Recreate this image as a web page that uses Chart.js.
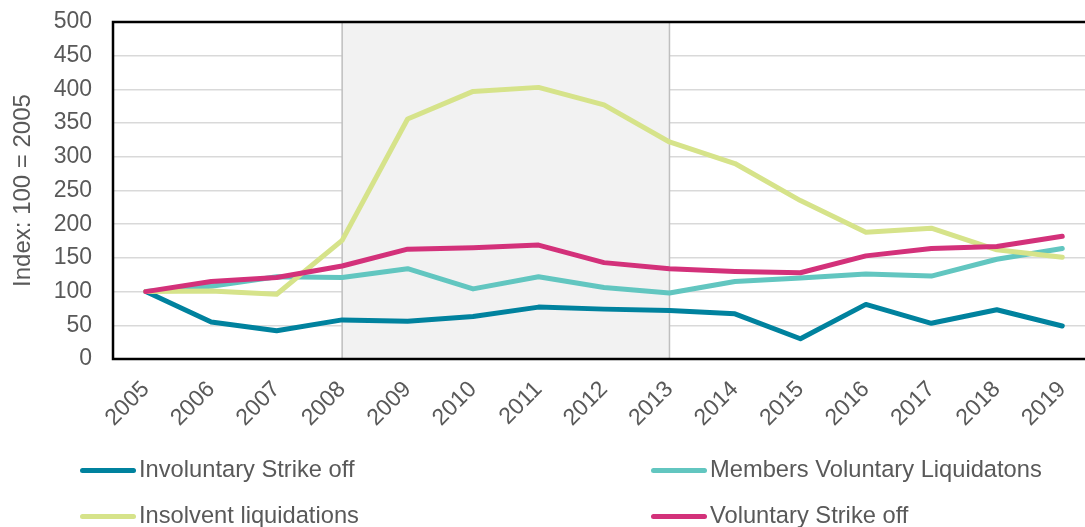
<!DOCTYPE html>
<html>
<head>
<meta charset="utf-8">
<script src="https://cdn.jsdelivr.net/npm/chart.js@4.4.0/dist/chart.umd.min.js"></script>
<style>
  html, body { margin: 0; padding: 0; background: #ffffff; overflow: hidden; }
  #wrap { position: relative; width: 1085px; height: 527px; overflow: hidden; }
  #c { position: absolute; left: 0; top: 0; }
  .leg { position: absolute; font-family: "Liberation Sans", Arial, sans-serif; font-size: 23.7px; color: #595959; white-space: nowrap; line-height: 1; }
  .leg .sw { position: absolute; left: 0; top: 50%; width: 56px; height: 5px; margin-top: -2.5px; border-radius: 3px; }
  .leg .tx { position: absolute; left: 59px; top: 50%; transform: translateY(-50%); }
</style>
</head>
<body>
<div id="wrap">
  <canvas id="c" width="1100" height="527" style="width:1100px;height:527px;"></canvas>
</div>
<script>
const years = ["2005","2006","2007","2008","2009","2010","2011","2012","2013","2014","2015","2016","2017","2018","2019"];
const involuntaryStrikeOff = [100, 55, 42, 58, 56, 63, 77, 74, 72, 67, 30, 81, 53, 73, 49];
const membersVoluntaryLiquidations = [100, 108, 122, 121, 134, 104, 122, 106, 98, 115, 120, 126, 123, 148, 164];
const insolventLiquidations = [100, 101, 96, 176, 356, 397, 403, 377, 322, 290, 235, 188, 194, 162, 151];
const voluntaryStrikeOff = [100, 115, 121, 138, 163, 165, 169, 143, 134, 130, 128, 153, 164, 167, 182];
const yTicks = [0, 50, 100, 150, 200, 250, 300, 350, 400, 450, 500];
const shadeFrom = "2008", shadeTo = "2013";

const seriesNames = ["Involuntary Strike off", "Members Voluntary Liquidatons", "Insolvent liquidations", "Voluntary Strike off"];
const seriesColors = ["#00829E", "#62C6C0", "#D6E38A", "#D3317A"];
const seriesData = [involuntaryStrikeOff, membersVoluntaryLiquidations, insolventLiquidations, voluntaryStrikeOff];

const FONT = "'Liberation Sans', Arial, sans-serif";
const GREY = "#595959";

const framePlugin = {
  id: 'frame',
  beforeDatasetsDraw(chart) {
    const {ctx, chartArea: a, scales: {x}} = chart;
    const x0 = x.getPixelForValue(years.indexOf(shadeFrom));
    const x1 = x.getPixelForValue(years.indexOf(shadeTo));
    ctx.save();
    ctx.fillStyle = "#F2F2F2";
    ctx.fillRect(x0, a.top, x1 - x0, a.bottom - a.top);
    ctx.strokeStyle = "#BFBFBF";
    ctx.lineWidth = 1.5;
    ctx.beginPath();
    ctx.moveTo(x0, a.top); ctx.lineTo(x0, a.bottom);
    ctx.moveTo(x1, a.top); ctx.lineTo(x1, a.bottom);
    ctx.stroke();
    ctx.restore();
  },
  afterDraw(chart) {
    const {ctx, chartArea: a} = chart;
    ctx.save();
    ctx.strokeStyle = "#000000";
    ctx.lineWidth = 2.5;
    ctx.strokeRect(a.left, a.top, a.right - a.left, a.bottom - a.top);
    ctx.restore();
  }
};

const datasets = seriesNames.map((n, i) => ({
  label: n,
  data: seriesData[i],
  borderColor: seriesColors[i],
  backgroundColor: seriesColors[i],
  borderWidth: 5,
  pointRadius: 0,
  tension: 0,
  fill: false,
  borderCapStyle: 'round',
  borderJoinStyle: 'round',
  order: seriesNames.length - 1 - i
}));

new Chart(document.getElementById('c'), {
  type: 'line',
  data: { labels: years, datasets },
  plugins: [framePlugin],
  options: {
    responsive: false,
    animation: false,
    layout: { padding: { left: 0, right: 5, top: 22, bottom: 88 } },
    plugins: { legend: { display: false }, tooltip: { enabled: false } },
    scales: {
      x: {
        offset: true,
        grid: { display: false },
        border: { display: false },
        ticks: { color: GREY, font: { family: FONT, size: 23 }, maxRotation: 45, minRotation: 45, autoSkip: false, padding: 9 },
        afterFit(s) { s.height = 80; s.paddingLeft = 0; s.paddingRight = 0; s.paddingTop = 0; s.paddingBottom = 0; }
      },
      y: {
        min: 0, max: 500,
        afterBuildTicks(s) { s.ticks = yTicks.map(v => ({ value: v })); },
        grid: { color: "#D9D9D9", lineWidth: 1.5, drawTicks: false },
        border: { display: false },
        ticks: { color: GREY, font: { family: FONT, size: 23 }, padding: 21 },
        title: { display: true, text: "Index: 100 = 2005", color: GREY, font: { family: FONT, size: 24 }, padding: { top: 9, bottom: 0 } },
        afterFit(s) { s.width = 113; s.paddingTop = 0; s.paddingBottom = 0; s.paddingLeft = 0; s.paddingRight = 0; }
      }
    }
  }
});

// legend (HTML text)
const legendPos = [
  { left: 80, top: 470 },
  { left: 651, top: 470 },
  { left: 80, top: 516 },
  { left: 651, top: 516 }
];
const wrap = document.getElementById('wrap');
seriesNames.forEach((n, i) => {
  const d = document.createElement('div');
  d.className = 'leg';
  d.style.left = legendPos[i].left + 'px';
  d.style.top = (legendPos[i].top - 15) + 'px';
  d.style.height = '30px';
  d.style.width = '450px';
  d.innerHTML = '<span class="sw" style="background:' + seriesColors[i] + '"></span><span class="tx"></span>';
  d.querySelector('.tx').textContent = n;
  wrap.appendChild(d);
});
</script>
</body>
</html>
